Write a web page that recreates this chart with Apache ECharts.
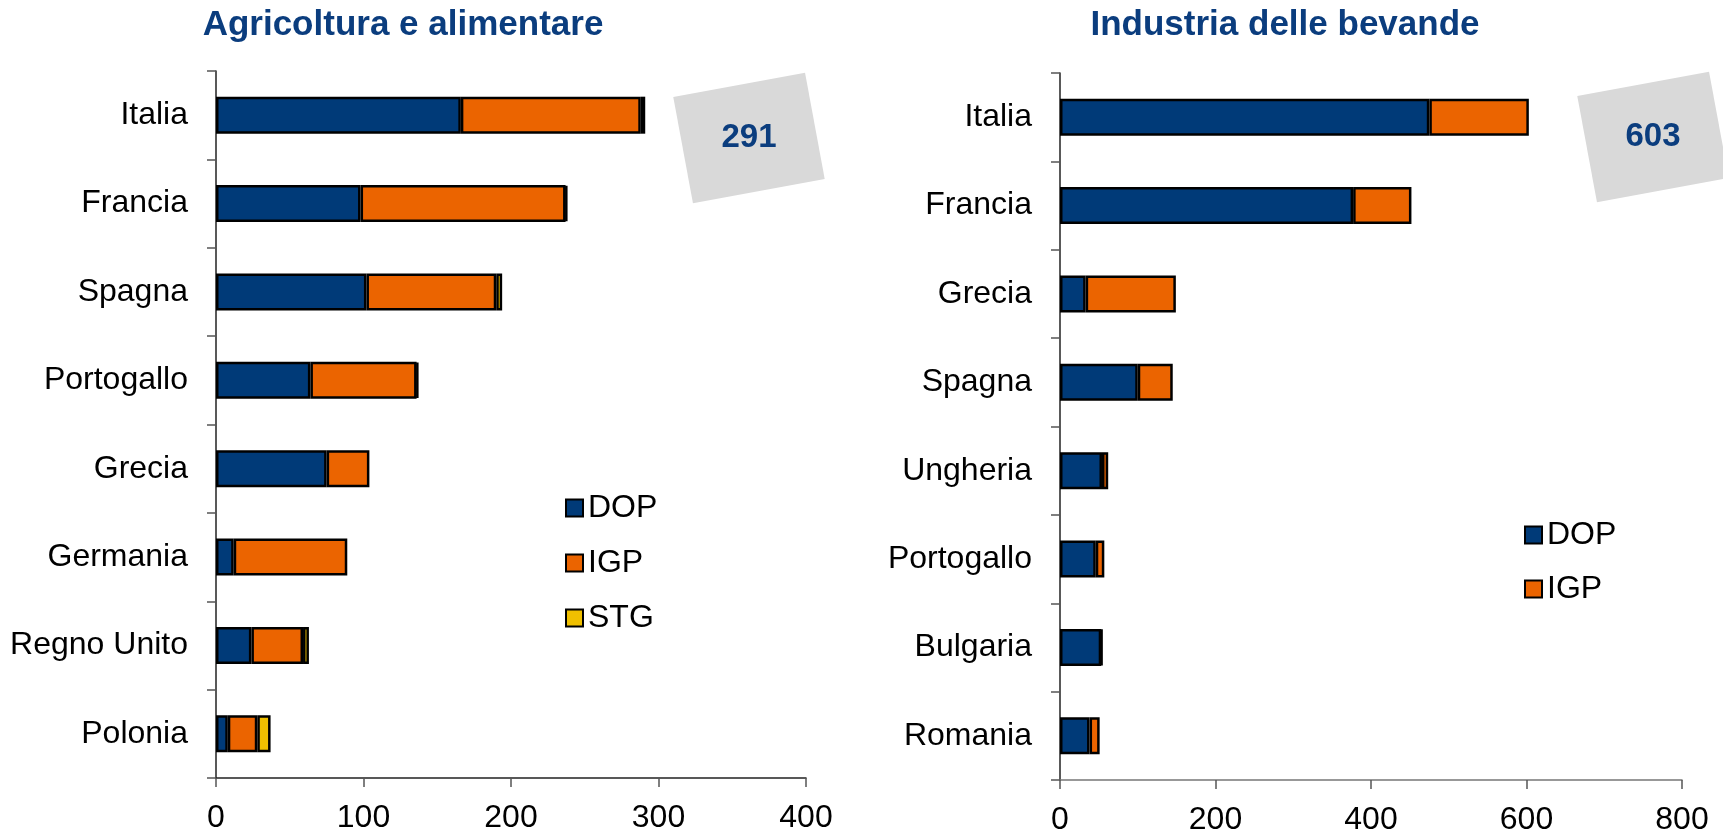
<!DOCTYPE html>
<html>
<head>
<meta charset="utf-8">
<script src="https://cdn.jsdelivr.net/npm/echarts@6/dist/echarts.min.js"></script>
<style>
html,body{margin:0;padding:0;background:#fff;}
#chart{width:1723px;height:832px;}
</style>
</head>
<body>
<div id="chart"></div>
<script>
// ---- Data ----
const leftTitle = 'Agricoltura e alimentare';
const rightTitle = 'Industria delle bevande';
const leftCategories = ['Italia','Francia','Spagna','Portogallo','Grecia','Germania','Regno Unito','Polonia'];
const leftDOP = [166, 98, 102, 64, 75, 12, 24, 8];
const leftIGP = [122, 139, 88, 72, 29, 77, 35, 20];
const leftSTG = [3, 1, 4, 1, 0, 0, 4, 9];
const rightCategories = ['Italia','Francia','Grecia','Spagna','Ungheria','Portogallo','Bulgaria','Romania'];
const rightDOP = [475, 377, 33, 100, 54, 46, 53, 38];
const rightIGP = [128, 75, 116, 45, 8, 11, 1, 13];
const leftTicks = [0, 100, 200, 300, 400];
const rightTicks = [0, 200, 400, 600, 800];

// ---- Styles ----
const C_DOP = '#003a78', C_IGP = '#eb6400', C_STG = '#f0c000';
const TITLE_C = '#0b3d7e';
const sans = "'Liberation Sans',Arial,sans-serif";

const chart = echarts.init(document.getElementById('chart'), null, {renderer:'canvas'});

function nz(arr){ return arr.map(v => v === 0 ? null : v); }

function xAxisCfg(idx, ticks, lineColor){
  return {
    type:'value', gridIndex: idx,
    min: ticks[0], max: ticks[ticks.length-1], interval: ticks[1]-ticks[0],
    axisLine:{show:true, lineStyle:{color:lineColor, width:1.5}},
    axisTick:{show:true, length:9, lineStyle:{color:'#555', width:1.5}},
    splitLine:{show:false},
    axisLabel:{fontFamily:sans, fontSize:32, color:'#000', margin:24}
  };
}
function yAxisCfg(idx, cats){
  return {
    type:'category', gridIndex: idx, data: cats, inverse:true,
    axisLine:{show:true, lineStyle:{color:'#222', width:1.5}},
    axisTick:{show:true, length:9, alignWithLabel:false, lineStyle:{color:'#555', width:1.5}},
    axisLabel:{fontFamily:sans, fontSize:32, color:'#000', margin:28}
  };
}
function barSeries(name, data, color, idx){
  return {
    name, type:'bar', stack:'s'+idx, xAxisIndex:idx, yAxisIndex:idx,
    data: nz(data), barWidth:37,
    itemStyle:{color, borderColor:'#000', borderWidth:2.5},
    emphasis:{disabled:true}, animation:false
  };
}

const leftTotal = leftDOP[0] + leftIGP[0] + leftSTG[0];
const rightTotal = rightDOP[0] + rightIGP[0];

function box(cx, cy, label){
  return [{
    type:'rect', x:cx, y:cy, rotation: 10.5*Math.PI/180, z:0,
    shape:{x:-67, y:-54, width:134, height:108},
    style:{fill:'#d9d9d9'}
  },{
    type:'text', x:cx, y:cy, z:1,
    style:{text:String(label), fill:TITLE_C, font:"bold 33px " + sans, textAlign:'center', textVerticalAlign:'middle'}
  }];
}

const legendText = {fontFamily:sans, fontSize:32, color:'#000'};

const option = {
  backgroundColor:'#fff',
  animation:false,
  title:[
    {text:leftTitle, left:398, top:3, textAlign:'center',
     textStyle:{fontFamily:sans, fontWeight:'bold', fontSize:35, color:TITLE_C}},
    {text:rightTitle, left:1280, top:3, textAlign:'center',
     textStyle:{fontFamily:sans, fontWeight:'bold', fontSize:35, color:TITLE_C}}
  ],
  legend:[
    {data:['DOP','IGP','STG'], orient:'vertical', left:560, top:487, itemGap:23,
     itemWidth:17, itemHeight:17, icon:'rect', selectedMode:false, textStyle:legendText},
    {data:['DOP','IGP'], orient:'vertical', left:1519, top:514, itemGap:22,
     itemWidth:17, itemHeight:17, icon:'rect', selectedMode:false, textStyle:legendText}
  ],
  grid:[
    {left:216, top:71, width:590, height:707, containLabel:false, outerBoundsMode:'none'},
    {left:1060, top:73, width:622, height:707, containLabel:false, outerBoundsMode:'none'}
  ],
  xAxis:[xAxisCfg(0, leftTicks, '#222'), xAxisCfg(1, rightTicks, '#777')],
  yAxis:[yAxisCfg(0, leftCategories), yAxisCfg(1, rightCategories)],
  series:[
    barSeries('DOP', leftDOP, C_DOP, 0),
    barSeries('IGP', leftIGP, C_IGP, 0),
    barSeries('STG', leftSTG, C_STG, 0),
    barSeries('DOP', rightDOP, C_DOP, 1),
    barSeries('IGP', rightIGP, C_IGP, 1)
  ],
  graphic: box(749, 138, leftTotal).concat(box(1653, 137, rightTotal))
};
chart.setOption(option);
</script>
</body>
</html>
